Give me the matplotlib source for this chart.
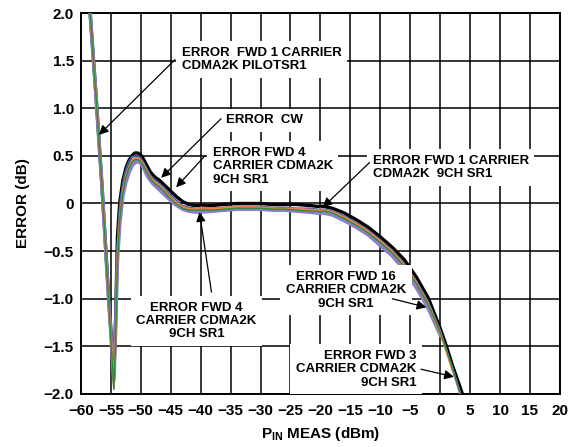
import matplotlib
matplotlib.use("Agg")
import matplotlib.pyplot as plt
import numpy as np

plt.rcParams['font.family'] = ['Liberation Sans', 'DejaVu Sans']
plt.rcParams['font.weight'] = 'bold'
plt.rcParams['mathtext.fontset'] = 'custom'
plt.rcParams['mathtext.rm'] = 'Liberation Sans:bold'
plt.rcParams['mathtext.bf'] = 'Liberation Sans:bold'

# input power (dBm), shared by all traces
pin = [-58.8, -57.5, -56.5, -55.5, -54.5, -54.2, -53.9, -53.5, -53.0, -52.5,
       -52.0, -51.5, -51.0, -50.5, -50.0, -49.5, -49.0, -48.5, -48.0, -47.5,
       -47.0, -46.5, -46.0, -45.5, -45.0, -44.5, -44.0, -43.0, -42.0, -41.0,
       -40.0, -38.0, -36.0, -34.0, -32.0, -30.0, -28.0, -26.0, -24.0, -22.0,
       -20.5, -20.0, -19.5, -18.0, -16.0, -14.0, -12.0, -10.0, -8.0, -6.0,
       -4.0, -2.0, 0.0, 1.0, 2.0, 3.0, 4.0]

# error (dB) per waveform
err_cw = [2.3, 1.15, 0.2, -0.85, -1.8, -1.2, -0.35, 0.02, 0.24, 0.37,
          0.45, 0.5, 0.53, 0.53, 0.51, 0.46, 0.4, 0.34, 0.3, 0.27,
          0.25, 0.22, 0.19, 0.16, 0.13, 0.1, 0.07, 0.02, -0.01, -0.02,
          -0.02, -0.02, -0.01, 0.0, 0.0, 0.0, -0.01, -0.01, -0.01, -0.02,
          -0.03, -0.03, -0.03, -0.05, -0.1, -0.17, -0.25, -0.35, -0.46, -0.59,
          -0.77, -0.99, -1.31, -1.49, -1.69, -1.87, -2.05]
err_pilot = [2.3, 1.15, 0.2, -0.88, -1.86, -1.3, -0.6, -0.2, 0.08, 0.22,
             0.32, 0.39, 0.43, 0.44, 0.42, 0.37, 0.3, 0.25, 0.21, 0.18,
             0.15, 0.12, 0.09, 0.06, 0.03, 0.0, -0.02, -0.06, -0.08, -0.09,
             -0.09, -0.08, -0.07, -0.06, -0.06, -0.06, -0.07, -0.07, -0.08, -0.09,
             -0.1, -0.1, -0.1, -0.12, -0.18, -0.25, -0.33, -0.44, -0.55, -0.7,
             -0.88, -1.1, -1.38, np.nan, np.nan, np.nan, np.nan]
err_fwd1 = [2.3, 1.15, 0.2, -0.86, -1.82, -1.2, -0.4, 0.0, 0.22, 0.36,
            0.44, 0.49, 0.5, 0.5, 0.48, 0.43, 0.37, 0.31, 0.27, 0.24,
            0.22, 0.19, 0.16, 0.12, 0.09, 0.06, 0.03, -0.02, -0.04, -0.05,
            -0.05, -0.05, -0.04, -0.03, -0.03, -0.03, -0.04, -0.04, -0.05, -0.05,
            -0.06, -0.07, -0.06, -0.08, -0.13, -0.2, -0.28, -0.38, -0.49, -0.63,
            -0.81, -1.03, -1.33, -1.52, -1.72, -1.91, -2.12]
err_fwd4 = [2.3, 1.15, 0.2, -0.87, -1.85, -1.3, -0.5, -0.1, 0.15, 0.3,
            0.39, 0.45, 0.48, 0.48, 0.46, 0.41, 0.35, 0.29, 0.25, 0.22,
            0.2, 0.17, 0.14, 0.1, 0.07, 0.04, 0.01, -0.03, -0.05, -0.06,
            -0.04, -0.05, -0.04, -0.03, -0.03, -0.04, -0.05, -0.05, -0.05, -0.06,
            -0.07, -0.05, -0.07, -0.09, -0.14, -0.21, -0.29, -0.39, -0.5, -0.64,
            -0.82, -1.04, -1.34, -1.54, -1.74, -1.94, -2.15]
err_fwd3 = [2.3, 1.15, 0.2, -0.88, -1.93, -1.4, -0.6, -0.15, 0.12, 0.28,
            0.38, 0.44, 0.47, 0.47, 0.45, 0.4, 0.34, 0.28, 0.24, 0.21,
            0.19, 0.16, 0.13, 0.09, 0.06, 0.03, 0.0, -0.04, -0.06, -0.06,
            -0.06, -0.06, -0.05, -0.04, -0.04, -0.04, -0.05, -0.06, -0.06, -0.07,
            -0.07, -0.08, -0.07, -0.09, -0.15, -0.22, -0.3, -0.4, -0.51, -0.65,
            -0.84, -1.06, -1.37, -1.55, -1.75, np.nan, np.nan]
err_fwd16 = [2.3, 1.15, 0.2, -0.88, -1.95, -1.42, -0.62, -0.16, 0.11, 0.27,
             0.37, 0.43, 0.46, 0.46, 0.44, 0.39, 0.33, 0.27, 0.23, 0.2,
             0.18, 0.15, 0.12, 0.08, 0.05, 0.02, -0.01, -0.05, -0.07, -0.07,
             -0.07, -0.07, -0.06, -0.05, -0.05, -0.05, -0.06, -0.06, -0.07, -0.08,
             -0.08, -0.09, -0.08, -0.1, -0.16, -0.23, -0.31, -0.41, -0.52, -0.66,
             -0.84, -1.06, -1.35, -1.53, -1.72, -1.92, -2.15]

xticks = list(range(-60, 21, 5))
yticks = [-2.0, -1.5, -1.0, -0.5, 0.0, 0.5, 1.0, 1.5, 2.0]
ytick_labels = ['\u22122.0', '\u22121.5', '\u22121.0', '\u22120.5', '0', '0.5', '1.0', '1.5', '2.0']

# (text, text position, alignment, arrow tail, arrow head)
notes = [
    ("ERROR  FWD 1 CARRIER\nCDMA2K PILOTSR1", (-43.2, 1.51), 'left', (-44.3, 1.51), (-57.0, 0.72)),
    ("ERROR  CW", (-35.7, 0.875), 'left', (-36.6, 0.89), (-46.6, 0.27)),
    ("ERROR FWD 4\nCARRIER CDMA2K\n9CH SR1", (-38.0, 0.39), 'left', (-39.3, 0.5), (-44.1, 0.17)),
    ("ERROR FWD 1 CARRIER\nCDMA2K  9CH SR1", (-11.3, 0.38), 'left', (-11.8, 0.43), (-19.6, -0.04)),
    ("ERROR FWD 4\nCARRIER CDMA2K\n9CH SR1", (-40.7, -1.235), 'center', (-38.2, -0.93), (-40.2, -0.09)),
    ("ERROR FWD 16\nCARRIER CDMA2K\n9CH SR1", (-15.7, -0.91), 'center', (-8.0, -1.0), (-2.3, -1.09)),
    ("ERROR FWD 3\nCARRIER CDMA2K\n9CH SR1", (-4.0, -1.74), 'right', (-3.2, -1.74), (2.3, -1.82)),
]

fig = plt.figure(figsize=(5.78, 4.47), dpi=100)
ax = fig.add_axes([0.140, 0.1186, 0.8287, 0.8523])

ax.plot(pin, err_cw, color='black', lw=2.4, zorder=3)
ax.plot(pin, err_pilot, color='#8c7fc6', lw=2.6, zorder=3.5)
ax.plot(pin, err_fwd1, color='#3b5fae', lw=1.2, zorder=4)
ax.plot(pin, err_fwd4, color='#e07078', lw=1.2, zorder=4)
ax.plot(pin, err_fwd16, color='#8c7fc6', lw=1.2, zorder=4)
ax.plot(pin, err_fwd3, color='#f08a2a', lw=1.2, zorder=4.1)
ax.plot(pin, err_fwd16, color='#2a8a3e', lw=1.0, zorder=4.2)

ax.set_xlim(-60, 20)
ax.set_ylim(-2.0, 2.0)
ax.set_xticks(xticks)
ax.set_xticklabels([str(v).replace('-', '\u2212') for v in xticks])
ax.set_yticks(yticks)
ax.set_yticklabels(ytick_labels)
ax.tick_params(length=0, labelsize=11, pad=5)
ax.tick_params(axis='x', pad=7)
ax.grid(True, color='black', lw=1.1, zorder=1)
ax.set_axisbelow(True)
for sp in ax.spines.values():
    sp.set_linewidth(1.4)

ax.set_xlabel(r'P$_{\mathbf{IN}}$ MEAS (dBm)', fontsize=11, fontweight='bold', labelpad=5)
ax.set_ylabel('ERROR (dB)', fontsize=11, fontweight='bold', labelpad=10)

for txt, pos, ha, tail, head in notes:
    ax.text(pos[0], pos[1], txt, ha=ha, va='center', multialignment=ha,
            fontsize=9.5, fontweight='bold', linespacing=1.15, zorder=5,
            bbox=dict(facecolor='white', edgecolor='none', pad=4))
    ax.annotate('', xy=head, xytext=tail, zorder=6,
                arrowprops=dict(arrowstyle='-|>', color='black', lw=0.9,
                                mutation_scale=14, shrinkA=0, shrinkB=0))

fig.savefig('out.png', dpi=100)
